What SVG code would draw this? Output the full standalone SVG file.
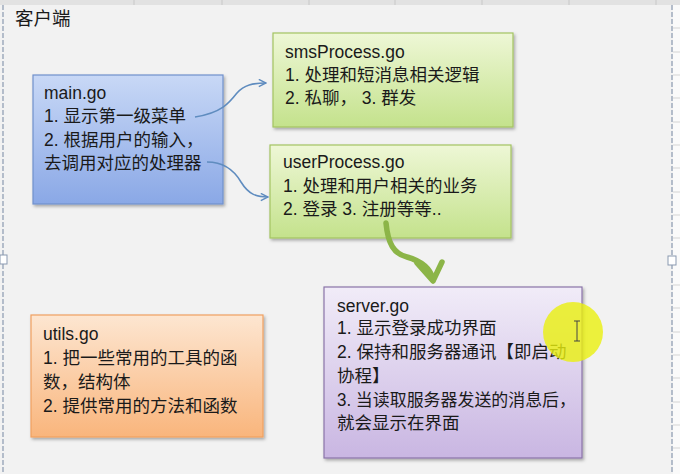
<svg xmlns="http://www.w3.org/2000/svg" width="680" height="474" viewBox="0 0 680 474">
<defs>
<style>
text{font-family:"Liberation Sans","Noto Sans CJK SC",sans-serif;font-size:17.5px;fill:#1a1a1a}
.box{stroke-width:1.2}
.conn{fill:none;stroke:#5f8cbf;stroke-width:1.6}
</style>
<linearGradient id="gBlue" x1="0" y1="0" x2="0" y2="1"><stop offset="0" stop-color="#c8d8f6"/><stop offset="1" stop-color="#8aa8e6"/></linearGradient>
<linearGradient id="gGreen" x1="0" y1="0" x2="0" y2="1"><stop offset="0" stop-color="#eef7d6"/><stop offset="1" stop-color="#c4e28c"/></linearGradient>
<linearGradient id="gPurple" x1="0" y1="0" x2="0" y2="1"><stop offset="0" stop-color="#f1ecf8"/><stop offset="1" stop-color="#c9b6e2"/></linearGradient>
<linearGradient id="gOrange" x1="0" y1="0" x2="0" y2="1"><stop offset="0" stop-color="#fde6d1"/><stop offset="1" stop-color="#f9b57c"/></linearGradient>
<filter id="sh" x="-10%" y="-10%" width="130%" height="130%"><feDropShadow dx="1.5" dy="2" stdDeviation="1.5" flood-color="#000" flood-opacity="0.3"/></filter>
<marker id="arr" viewBox="0 0 10 10" refX="9" refY="5" markerWidth="9" markerHeight="9" markerUnits="userSpaceOnUse" orient="auto"><path d="M1,1 L9,5 L1,9" fill="none" stroke="#5f8cbf" stroke-width="1.6"/></marker>
</defs>
<rect width="680" height="474" fill="#f2f2f2"/>
<rect x="0" y="0" width="680" height="5" fill="#e2e2e2"/>
<g stroke="#c8c8c8" stroke-width="1"><line x1="134" y1="0" x2="134" y2="5"/><line x1="222" y1="0" x2="222" y2="5"/><line x1="309" y1="0" x2="309" y2="5"/><line x1="395" y1="0" x2="395" y2="5"/><line x1="482" y1="0" x2="482" y2="5"/><line x1="569" y1="0" x2="569" y2="5"/><line x1="656" y1="0" x2="656" y2="5"/></g>
<rect x="673" y="5" width="7" height="469" fill="#fafafa"/>
<g stroke="#d4d4d4" stroke-width="1"><line x1="673" y1="28" x2="680" y2="28"/><line x1="673" y1="52" x2="680" y2="52"/><line x1="673" y1="75" x2="680" y2="75"/><line x1="673" y1="98" x2="680" y2="98"/><line x1="673" y1="122" x2="680" y2="122"/><line x1="673" y1="145" x2="680" y2="145"/><line x1="673" y1="168" x2="680" y2="168"/><line x1="673" y1="192" x2="680" y2="192"/><line x1="673" y1="215" x2="680" y2="215"/><line x1="673" y1="238" x2="680" y2="238"/><line x1="673" y1="285" x2="680" y2="285"/><line x1="673" y1="308" x2="680" y2="308"/><line x1="673" y1="332" x2="680" y2="332"/><line x1="673" y1="355" x2="680" y2="355"/><line x1="673" y1="378" x2="680" y2="378"/><line x1="673" y1="402" x2="680" y2="402"/><line x1="673" y1="425" x2="680" y2="425"/><line x1="673" y1="448" x2="680" y2="448"/></g>
<g stroke="#8a99b0" stroke-width="1.2" stroke-dasharray="5,2"><line x1="3" y1="5" x2="3" y2="474"/><line x1="672" y1="5" x2="672" y2="474"/></g>
<rect x="0" y="255" width="7" height="9" fill="#fff" stroke="#8a99b0"/>
<rect x="668" y="256" width="8" height="9" fill="#fff" stroke="#8a99b0"/>
<text x="15" y="25" style="font-size:18.5px">客户端</text>

<g id="main">
<rect class="box" x="33" y="75" width="190" height="129" fill="url(#gBlue)" stroke="#7191cc" filter="url(#sh)"/>
<text x="44" y="99">main.go</text>
<text x="44" y="122">1. 显示第一级菜单</text>
<text x="44" y="146">2. 根据用户的输入，</text>
<text x="44" y="169">去调用对应的处理器</text>
</g>
<g id="smsProcess">
<rect class="box" x="273" y="33" width="240" height="94" fill="url(#gGreen)" stroke="#a3c461" filter="url(#sh)"/>
<text x="285" y="58">smsProcess.go</text>
<text x="285" y="81">1. 处理和短消息相关逻辑</text>
<text x="285" y="104">2. 私聊， 3. 群发</text>
</g>
<g id="userProcess">
<rect class="box" x="270" y="145" width="241" height="93" fill="url(#gGreen)" stroke="#a3c461" filter="url(#sh)"/>
<text x="283" y="168">userProcess.go</text>
<text x="283" y="192">1. 处理和用户相关的业务</text>
<text x="283" y="215">2. 登录 3. 注册等等..</text>
</g>
<g id="server">
<rect class="box" x="324" y="287" width="258" height="171" fill="url(#gPurple)" stroke="#8a74a8" filter="url(#sh)"/>
<text x="337" y="312">server.go</text>
<text x="337" y="334">1. 显示登录成功界面</text>
<text x="337" y="358">2. 保持和服务器通讯【即启动</text>
<text x="337" y="382">协程】</text>
<text x="337" y="406" textLength="239" lengthAdjust="spacingAndGlyphs">3. 当读取服务器发送的消息后，</text>
<text x="337" y="429">就会显示在界面</text>
</g>
<g id="utils">
<rect class="box" x="31" y="315" width="232" height="122" fill="url(#gOrange)" stroke="#f0a060" filter="url(#sh)"/>
<text x="43" y="340">utils.go</text>
<text x="43" y="364">1. 把一些常用的工具的函</text>
<text x="43" y="388">数，结构体</text>
<text x="43" y="412">2. 提供常用的方法和函数</text>
</g>
<g id="connectors">
<path class="conn" d="M195,117 C222,113 230,102 237,93 C244,85 253,83 266,83" marker-end="url(#arr)"/>
<path class="conn" d="M207,162 C224,162 234,170 241,182 C249,195 257,197 268,197" marker-end="url(#arr)"/>
<path d="M386,223 C388,244 394,254 407,257 C421,261 430,268 433,279" fill="none" stroke="#8cb548" stroke-width="5.5" stroke-linecap="round"/>
<path d="M417,263 L433,281 L442,262" fill="none" stroke="#8cb548" stroke-width="5.5" stroke-linecap="round" stroke-linejoin="round"/>
</g>
<circle cx="573" cy="332" r="30" fill="#eaf00e" opacity="0.8"/>
<path d="M574,321 h6 M577,321 v20 M574,341 h6" stroke="#444" stroke-width="1" fill="none"/>
</svg>
